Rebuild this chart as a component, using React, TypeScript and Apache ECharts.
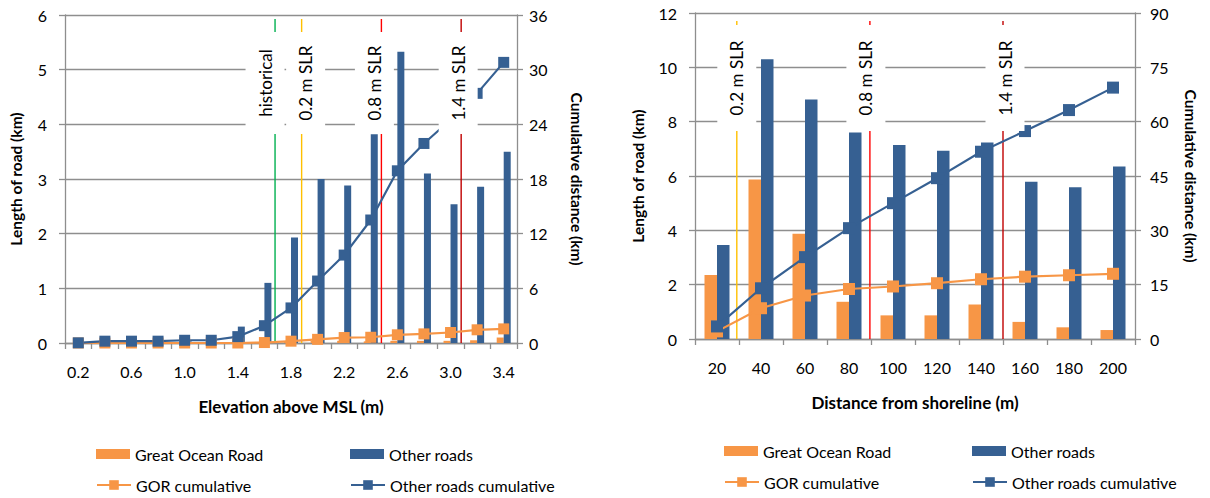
import React, { useEffect, useRef } from "react";
import * as echarts from "echarts";

// ---------- Left chart: elevation ----------
const elevCats = ["0.2", "0.4", "0.6", "0.8", "1.0", "1.2", "1.4", "1.6", "1.8", "2.0", "2.2", "2.4", "2.6", "2.8", "3.0", "3.2", "3.4"];
const elevGOR = [0, 0, 0, 0, 0, 0, 0, 0.02, 0.03, 0.04, 0.04, 0.03, 0.04, 0.04, 0.04, 0.05, 0.1];
const elevOther = [0, 0.01, 0.01, 0.01, 0.03, 0.01, 0.3, 1.1, 1.93, 3.0, 2.88, 3.82, 5.33, 3.1, 2.54, 2.86, 3.5];
const elevGORCum = [0, 0, 0, 0, 0, 0, 0, 0.05, 0.2, 0.4, 0.6, 0.63, 0.9, 1.0, 1.15, 1.45, 1.55];
const elevOtherCum = [0.02, 0.2, 0.2, 0.2, 0.3, 0.3, 0.7, 1.9, 3.85, 6.8, 9.65, 13.5, 18.9, 21.9, 24.5, 27.4, 30.8];
const elevRefPos = [1.68, 1.88, 2.48, 3.08];
const elevRefLabels = ["historical", "0.2 m SLR", "0.8 m SLR", "1.4 m SLR"];
const elevRefColors = ["#00B050", "#FFC000", "#FF0000", "#C00000"];
const elevBoxShift = [-10, 4, -7, -3];

// ---------- Right chart: distance ----------
const distCats = ["20", "40", "60", "80", "100", "120", "140", "160", "180", "200"];
const distGOR = [2.36, 5.87, 3.87, 1.37, 0.87, 0.87, 1.27, 0.63, 0.43, 0.33];
const distOther = [3.46, 10.3, 8.82, 7.6, 7.14, 6.93, 7.23, 5.79, 5.59, 6.35];
const distGORCum = [2.1, 8.5, 12.0, 13.8, 14.5, 15.4, 16.5, 17.2, 17.6, 18.0];
const distOtherCum = [3.47, 14.0, 22.6, 30.6, 37.5, 44.4, 51.7, 57.4, 63.2, 69.4];
const distRefPos = [29, 89.5, 150];
const distRefLabels = ["0.2 m SLR", "0.8 m SLR", "1.4 m SLR"];
const distRefColors = ["#FFC000", "#FF0000", "#C00000"];
const distBoxShift = [0, -4, 2];

const ORANGE = "#F79646";
const BLUE = "#366092";
const GRID = "#8E8E8E";
const FONT = "Lato";

function refLineSeries(pos: number[], colors: string[], xi: number, yi: number, yMax: number, topPad: number) {
  return {
    type: "custom",
    xAxisIndex: xi,
    yAxisIndex: yi,
    z: 3,
    silent: true,
    clip: false,
    data: pos.map((p, i) => [p, i]),
    renderItem: (params: any, api: any) => {
      const i = api.value(1);
      const t = api.coord([api.value(0), yMax]);
      const b = api.coord([api.value(0), 0]);
      return {
        type: "line",
        shape: { x1: t[0], y1: t[1] + topPad, x2: b[0], y2: b[1] },
        style: { stroke: colors[i], lineWidth: 1.4 },
      };
    },
  };
}

function refBoxSeries(pos: number[], labels: string[], shifts: number[], xi: number, yi: number, yMax: number, dy: number, h: number) {
  return {
    type: "custom",
    xAxisIndex: xi,
    yAxisIndex: yi,
    z: 6,
    silent: true,
    clip: false,
    data: pos.map((p, i) => [p, i]),
    renderItem: (params: any, api: any) => {
      const i = api.value(1);
      const t = api.coord([api.value(0), yMax]);
      const cx = t[0] + shifts[i];
      const cy = t[1] + dy;
      return {
        type: "group",
        children: [
          { type: "rect", shape: { x: cx - 19.5, y: cy - h / 2, width: 39, height: h }, style: { fill: "#ffffff" } },
          {
            type: "text",
            x: cx,
            y: cy,
            rotation: Math.PI / 2,
            style: { text: labels[i], fill: "#000", fontSize: 17, fontFamily: FONT, align: "center", verticalAlign: "middle" },
          },
        ],
      };
    },
  };
}

const axisLabelStyle = { color: "#000", fontSize: 16, fontFamily: FONT };
const yNameStyle = { color: "#000", fontSize: 15.5, fontWeight: "bold" as const, fontFamily: FONT };
const xNameStyle = { color: "#000", fontSize: 17, fontWeight: "bold" as const, fontFamily: FONT };

function legendItem(name: string, left: number, top: number, isLine: boolean) {
  return {
    left,
    top,
    padding: 0,
    itemWidth: 34,
    itemHeight: isLine ? 12 : 10,
    icon: isLine ? undefined : "rect",
    selectedMode: false,
    textStyle: { color: "#000", fontSize: 16, fontFamily: FONT },
    data: [name],
  };
}

export default function App() {
  const ref = useRef<HTMLDivElement>(null);
  useEffect(() => {
    if (!ref.current) return;
    const chart = echarts.init(ref.current, undefined, { renderer: "svg" });
    const catAxis = (cats: string[], gi: number, labelInterval: number, name: string) => ({
      type: "category",
      gridIndex: gi,
      data: cats,
      boundaryGap: true,
      name,
      nameLocation: "middle",
      nameGap: 55,
      nameTextStyle: xNameStyle,
      axisLine: { show: true, lineStyle: { color: GRID, width: 1.3 } },
      axisTick: { show: true, interval: 0, alignWithLabel: false, length: 6, lineStyle: { color: GRID, width: 1.3 } },
      axisLabel: { ...axisLabelStyle, interval: labelInterval, margin: 20 },
      splitLine: { show: false },
    });
    const hiddenX = (gi: number, min: number, max: number) => ({
      type: "value",
      gridIndex: gi,
      min,
      max,
      show: false,
      splitLine: { show: false },
    });
    const valAxis = (gi: number, max: number, interval: number, pos: string, name: string, grid: boolean, gap: number, rot: number, margin: number) => ({
      type: "value",
      gridIndex: gi,
      min: 0,
      max,
      interval,
      position: pos,
      name,
      nameLocation: "middle",
      nameGap: gap,
      nameRotate: rot,
      nameTextStyle: yNameStyle,
      axisLine: { show: true, lineStyle: { color: GRID, width: 1.3 } },
      axisTick: { show: true, length: 6, lineStyle: { color: GRID, width: 1.3 } },
      axisLabel: { ...axisLabelStyle, margin },
      splitLine: { show: grid, lineStyle: { color: GRID, width: 1.3 } },
    });

    const option: any = {
      animation: false,
      grid: [
        { left: 65, top: 15, width: 452, height: 328 },
        { left: 695, top: 13, width: 440, height: 326 },
      ],
      legend: [
        legendItem("Great Ocean Road", 96, 446, false),
        legendItem("Other roads", 350, 446, false),
        legendItem("GOR cumulative", 96, 477, true),
        legendItem("Other roads cumulative", 350, 477, true),
        legendItem("Great Ocean Road", 724, 443, false),
        legendItem("Other roads", 972, 443, false),
        legendItem("GOR cumulative", 724, 474, true),
        legendItem("Other roads cumulative", 972, 474, true),
      ],
      xAxis: [
        catAxis(elevCats, 0, 1, "Elevation above MSL (m)"),
        hiddenX(0, 0.1, 3.5),
        catAxis(distCats, 1, 0, "Distance from shoreline (m)"),
        hiddenX(1, 10, 210),
      ],
      yAxis: [
        valAxis(0, 6, 1, "left", "Length of road (km)", true, 41, 90, 18),
        valAxis(0, 36, 6, "right", "Cumulative distance (km)", false, 52, -90, 12),
        valAxis(1, 12, 2, "left", "Length of road (km)", true, 49, 90, 18),
        valAxis(1, 90, 15, "right", "Cumulative distance (km)", false, 48, -90, 15),
      ],
      series: [
        { name: "Great Ocean Road", type: "bar", xAxisIndex: 0, yAxisIndex: 0, data: elevGOR, barWidth: 7, barGap: "0%", itemStyle: { color: ORANGE }, z: 2 },
        { name: "Other roads", type: "bar", xAxisIndex: 0, yAxisIndex: 0, data: elevOther, barWidth: 7, barGap: "0%", itemStyle: { color: BLUE }, z: 2 },
        { name: "GOR cumulative", type: "line", xAxisIndex: 0, yAxisIndex: 1, data: elevGORCum, symbol: "rect", symbolSize: 11, lineStyle: { color: ORANGE, width: 2.2 }, itemStyle: { color: ORANGE }, z: 4 },
        { name: "Other roads cumulative", type: "line", xAxisIndex: 0, yAxisIndex: 1, data: elevOtherCum, symbol: "rect", symbolSize: 11, lineStyle: { color: BLUE, width: 2.2 }, itemStyle: { color: BLUE }, z: 4 },
        refLineSeries(elevRefPos, elevRefColors, 1, 0, 6, 4),
        refBoxSeries(elevRefPos, elevRefLabels, elevBoxShift, 1, 0, 6, 68, 102),

        { name: "Great Ocean Road", type: "bar", xAxisIndex: 2, yAxisIndex: 2, data: distGOR, barWidth: 12.5, barGap: "0%", itemStyle: { color: ORANGE }, z: 2 },
        { name: "Other roads", type: "bar", xAxisIndex: 2, yAxisIndex: 2, data: distOther, barWidth: 12.5, barGap: "0%", itemStyle: { color: BLUE }, z: 2 },
        { name: "GOR cumulative", type: "line", xAxisIndex: 2, yAxisIndex: 3, data: distGORCum, symbol: "rect", symbolSize: 12, lineStyle: { color: ORANGE, width: 2.2 }, itemStyle: { color: ORANGE }, z: 4 },
        { name: "Other roads cumulative", type: "line", xAxisIndex: 2, yAxisIndex: 3, data: distOtherCum, symbol: "rect", symbolSize: 12, lineStyle: { color: BLUE, width: 2.2 }, itemStyle: { color: BLUE }, z: 4 },
        refLineSeries(distRefPos, distRefColors, 3, 2, 12, 8),
        refBoxSeries(distRefPos, distRefLabels, distBoxShift, 3, 2, 12, 65, 106),
      ],
    };
    chart.setOption(option);
    return () => chart.dispose();
  }, []);
  return <div ref={ref} style={{ position: "absolute", left: 0, top: 0, width: 1210, height: 498, background: "#fff" }} />;
}
